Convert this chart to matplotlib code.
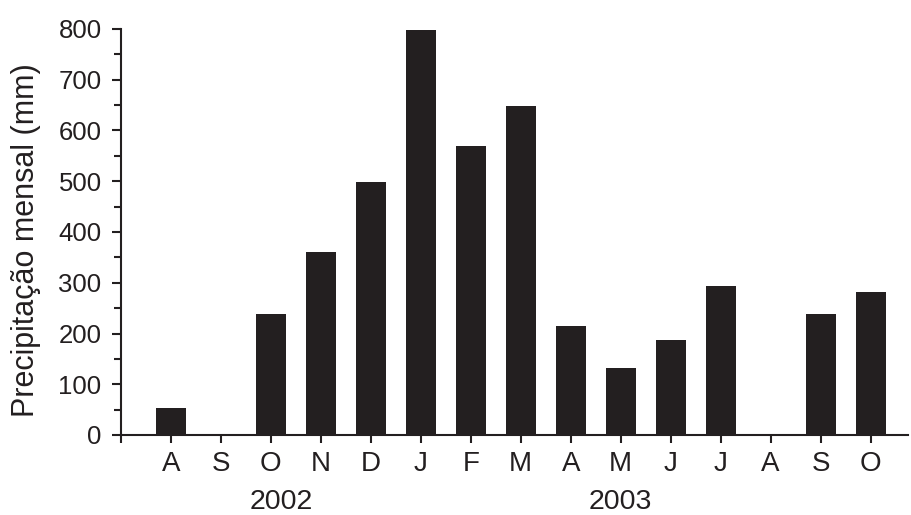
import matplotlib
matplotlib.use("Agg")
import matplotlib.pyplot as plt
from matplotlib.ticker import MultipleLocator

# Precipitação mensal, ago/2002 a out/2003
meses = ["A", "S", "O", "N", "D", "J", "F", "M", "A", "M", "J", "J", "A", "S", "O"]
precip = [53, 0, 238, 360, 498, 798, 569, 648, 215, 132, 187, 293, 0, 238, 282]
anos = ["2002", "2003"]
pos_anos = [2.2, 9.0]

COR = "#231f20"
plt.rcParams["font.family"] = ["Liberation Sans", "DejaVu Sans"]

fig = plt.figure(figsize=(9.11, 5.15), dpi=100)
ax = fig.add_axes([121 / 911, 1 - 435 / 515, (908 - 121) / 911, (435 - 29) / 515])

x = list(range(len(meses)))
ax.bar(x, precip, width=0.6, color=COR, edgecolor="none", zorder=2)

ax.set_xlim(-1, 14.75)
ax.set_ylim(0, 800)

for s in ("top", "right"):
    ax.spines[s].set_visible(False)
for s in ("left", "bottom"):
    ax.spines[s].set_linewidth(1.5)
    ax.spines[s].set_color(COR)
ax.spines["bottom"].set_zorder(3)

ax.set_xticks([-1] + x)
ax.set_xticklabels([""] + meses)
ax.yaxis.set_major_locator(MultipleLocator(100))
ax.yaxis.set_minor_locator(MultipleLocator(50))
ax.tick_params(axis="both", which="major", direction="out", width=1.5,
               color=COR, labelcolor=COR)
ax.tick_params(axis="x", length=6, pad=5.5, labelsize=20)
ax.tick_params(axis="y", length=6.5, pad=7.5, labelsize=18.5)
ax.tick_params(axis="y", which="minor", direction="out", length=5, width=1.5, color=COR)

for xp, ano in zip(pos_anos, anos):
    ax.text(xp, -0.164, ano, transform=ax.get_xaxis_transform(), ha="center", va="center",
            fontsize=20.5, color=COR)

fig.text(26 / 911, 1 - 240 / 515, "Precipitação mensal (mm)", rotation=90,
         ha="center", va="center", fontsize=22, color=COR)

fig.savefig("out.png", dpi=100)
